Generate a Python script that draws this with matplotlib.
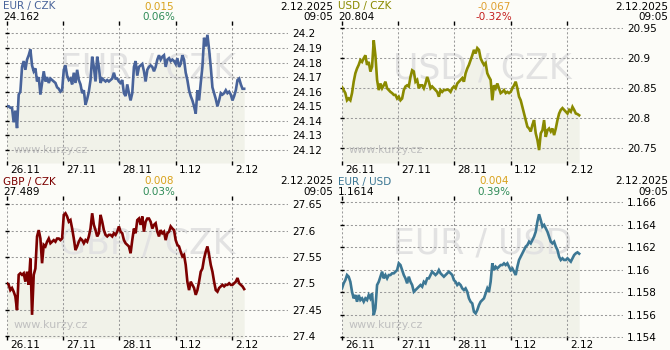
import numpy as np
import matplotlib
matplotlib.use("Agg")
import matplotlib.pyplot as plt
from matplotlib import transforms

# ---------------- data ----------------
day_labels = ["26.11", "27.11", "28.11", "1.12", "2.12"]

eurczk = [
    24.150, 24.150, 24.149, 24.149, 24.139, 24.147, 24.135, 24.158, 24.160, 24.177,
    24.181, 24.175, 24.182, 24.185, 24.189, 24.178, 24.174, 24.176, 24.167, 24.170,
    24.158, 24.166, 24.174, 24.167, 24.170, 24.166, 24.169, 24.168, 24.167, 24.166,
    24.163, 24.162, 24.160, 24.161, 24.175, 24.178, 24.171, 24.168, 24.169, 24.165,
    24.173, 24.166, 24.175, 24.168, 24.165, 24.159, 24.161, 24.151, 24.155, 24.160,
    24.168, 24.184, 24.177, 24.167, 24.184, 24.177, 24.166, 24.169, 24.168, 24.167,
    24.168, 24.167, 24.168, 24.169, 24.173, 24.169, 24.169, 24.167, 24.166, 24.168,
    24.159, 24.157, 24.165, 24.159, 24.154, 24.159, 24.177, 24.181, 24.171, 24.177,
    24.178, 24.179, 24.174, 24.167, 24.175, 24.177, 24.178, 24.177, 24.174, 24.177,
    24.182, 24.185, 24.182, 24.184, 24.185, 24.177, 24.182, 24.183, 24.181, 24.182,
    24.181, 24.179, 24.183, 24.177, 24.179, 24.185, 24.182, 24.173, 24.168, 24.161,
    24.157, 24.154, 24.150, 24.145, 24.161, 24.154, 24.166, 24.177, 24.197, 24.191,
    24.199, 24.189, 24.177, 24.163, 24.159, 24.155, 24.150, 24.154, 24.159, 24.158,
    24.159, 24.161, 24.159, 24.160, 24.158, 24.154, 24.157, 24.161, 24.168, 24.169,
    24.165, 24.162, 24.162,
]

usdczk = [
    20.851, 20.846, 20.841, 20.829, 20.832, 20.829, 20.841, 20.860, 20.874, 20.882,
    20.888, 20.896, 20.893, 20.899, 20.904, 20.888, 20.893, 20.877, 20.885, 20.929,
    20.904, 20.863, 20.846, 20.857, 20.849, 20.854, 20.860, 20.849, 20.846, 20.843,
    20.841, 20.838, 20.838, 20.832, 20.835, 20.829, 20.832, 20.846, 20.852, 20.854,
    20.852, 20.868, 20.879, 20.877, 20.860, 20.863, 20.849, 20.854, 20.854, 20.849,
    20.857, 20.868, 20.860, 20.849, 20.852, 20.849, 20.846, 20.843, 20.835, 20.846,
    20.843, 20.846, 20.846, 20.847, 20.846, 20.843, 20.849, 20.852, 20.849, 20.857,
    20.860, 20.863, 20.866, 20.860, 20.874, 20.882, 20.888, 20.896, 20.904, 20.913,
    20.907, 20.916, 20.913, 20.899, 20.893, 20.888, 20.891, 20.874, 20.868, 20.863,
    20.829, 20.854, 20.849, 20.857, 20.849, 20.841, 20.843, 20.846, 20.841, 20.843,
    20.841, 20.843, 20.849, 20.854, 20.860, 20.849, 20.835, 20.829, 20.818, 20.807,
    20.796, 20.785, 20.782, 20.777, 20.788, 20.796, 20.774, 20.763, 20.746, 20.774,
    20.779, 20.796, 20.768, 20.779, 20.782, 20.777, 20.782, 20.771, 20.782, 20.796,
    20.807, 20.813, 20.816, 20.813, 20.810, 20.807, 20.813, 20.810, 20.818, 20.813,
    20.807, 20.806, 20.804,
]

gbpczk = [
    27.500, 27.497, 27.487, 27.491, 27.484, 27.475, 27.449, 27.516, 27.519, 27.516,
    27.519, 27.503, 27.522, 27.497, 27.547, 27.440, 27.516, 27.528, 27.589, 27.601,
    27.585, 27.538, 27.573, 27.570, 27.579, 27.585, 27.576, 27.579, 27.582, 27.579,
    27.585, 27.585, 27.582, 27.585, 27.630, 27.633, 27.627, 27.617, 27.620, 27.604,
    27.585, 27.563, 27.570, 27.579, 27.585, 27.582, 27.576, 27.582, 27.579, 27.589,
    27.604, 27.633, 27.611, 27.601, 27.589, 27.595, 27.630, 27.617, 27.601, 27.592,
    27.589, 27.592, 27.592, 27.589, 27.595, 27.592, 27.598, 27.608, 27.598, 27.595,
    27.582, 27.576, 27.573, 27.570, 27.557, 27.582, 27.604, 27.595, 27.620, 27.623,
    27.611, 27.627, 27.598, 27.617, 27.623, 27.623, 27.617, 27.604, 27.611, 27.614,
    27.598, 27.589, 27.601, 27.595, 27.598, 27.582, 27.595, 27.598, 27.608, 27.604,
    27.601, 27.582, 27.573, 27.570, 27.560, 27.551, 27.554, 27.535, 27.503, 27.487,
    27.503, 27.497, 27.491, 27.478, 27.487, 27.503, 27.522, 27.528, 27.547, 27.560,
    27.570, 27.554, 27.535, 27.522, 27.503, 27.487, 27.484, 27.491, 27.494, 27.497,
    27.494, 27.497, 27.497, 27.500, 27.497, 27.497, 27.500, 27.503, 27.510, 27.500,
    27.497, 27.494, 27.489,
]

eurusd = [
    1.15833, 1.15878, 1.15907, 1.15952, 1.15937, 1.15892, 1.15803, 1.15744, 1.15774, 1.15714,
    1.15774, 1.15729, 1.15744, 1.15714, 1.15744, 1.15729, 1.15774, 1.15744, 1.15788, 1.15595,
    1.15655, 1.15863, 1.15892, 1.15937, 1.15982, 1.15922, 1.15952, 1.15922, 1.15952, 1.15952,
    1.15967, 1.15967, 1.15982, 1.15996, 1.16056, 1.16041, 1.15996, 1.15952, 1.15922, 1.15878,
    1.15937, 1.15892, 1.15863, 1.15803, 1.15818, 1.15833, 1.15848, 1.15863, 1.15848, 1.15892,
    1.15878, 1.15922, 1.15922, 1.15952, 1.15982, 1.15967, 1.15952, 1.15967, 1.15996, 1.15967,
    1.15952, 1.15937, 1.15952, 1.15967, 1.15982, 1.15967, 1.15952, 1.15907, 1.15892, 1.15863,
    1.15878, 1.15863, 1.15833, 1.15818, 1.15833, 1.15803, 1.15744, 1.15714, 1.15699, 1.15625,
    1.15610, 1.15640, 1.15684, 1.15714, 1.15729, 1.15744, 1.15788, 1.15833, 1.15803, 1.15892,
    1.16056, 1.15996, 1.16026, 1.16011, 1.16026, 1.16041, 1.16041, 1.16056, 1.16041, 1.16056,
    1.16026, 1.15996, 1.16011, 1.15982, 1.15952, 1.16026, 1.16086, 1.16115, 1.16145, 1.16175,
    1.16205, 1.16219, 1.16249, 1.16234, 1.16264, 1.16294, 1.16338, 1.16428, 1.16493, 1.16442,
    1.16383, 1.16398, 1.16368, 1.16338, 1.16294, 1.16249, 1.16234, 1.16249, 1.16205, 1.16175,
    1.16115, 1.16086, 1.16101, 1.16086, 1.16086, 1.16101, 1.16086, 1.16071, 1.16101, 1.16130,
    1.16145, 1.16154, 1.16142,
]

# sample times in days since 26.11 00:00 (last sample 2.12 ~05:20)
times = np.linspace(0.0, 4.22, len(eurczk))

names = ["EUR / CZK", "USD / CZK", "GBP / CZK", "EUR / USD"]
last_values = ["24.162", "20.804", "27.489", "1.1614"]
changes = ["0.015", "-0.067", "0.008", "0.004"]
changes_pct = ["0.06%", "-0.32%", "0.03%", "0.39%"]
stamp_date = "2.12.2025"
stamp_time = "09:05"

yticks_eurczk = [24.12, 24.13, 24.14, 24.15, 24.16, 24.17, 24.18, 24.19, 24.20]
ylabels_eurczk = ["24.12", "24.13", "24.14", "24.15", "24.16", "24.17", "24.18", "24.19", "24.2"]
yticks_usdczk = [20.75, 20.80, 20.85, 20.90, 20.95]
ylabels_usdczk = ["20.75", "20.8", "20.85", "20.9", "20.95"]
yticks_gbpczk = [27.40, 27.45, 27.50, 27.55, 27.60, 27.65]
ylabels_gbpczk = ["27.4", "27.45", "27.5", "27.55", "27.6", "27.65"]
yticks_eurusd = [1.154, 1.156, 1.158, 1.160, 1.162, 1.164, 1.166]
ylabels_eurusd = ["1.154", "1.156", "1.158", "1.16", "1.162", "1.164", "1.166"]

# ---------------- style ----------------
W, H = 670, 350
BG = "#fcfcf8"
FILL = "#f1f2e9"
GRID = "#9a9a9a"
WATER = "#e2e2e2"
GOLD = "#d9a21c"
GREEN = "#2e8b57"
RED = "#c41e1e"
INK = "#000000"
FS = 7.5
plt.rcParams["font.family"] = ["DejaVu Sans"]

panels = [
    dict(col=0, row=0, data=eurczk, color="#48639a", ylim=(24.1111, 24.2071),
         yt=yticks_eurczk, yl=ylabels_eurczk),
    dict(col=1, row=0, data=usdczk, color="#8a8a00", ylim=(20.7245, 20.9578),
         yt=yticks_usdczk, yl=ylabels_usdczk),
    dict(col=0, row=1, data=gbpczk, color="#7c0000", ylim=(27.396, 27.662),
         yt=yticks_gbpczk, yl=ylabels_gbpczk),
    dict(col=1, row=1, data=eurusd, color="#3c7794", ylim=(1.15391, 1.16638),
         yt=yticks_eurusd, yl=ylabels_eurusd),
]

fig = plt.figure(figsize=(W / 100, H / 100), dpi=100, facecolor=BG)


def ftext(x, y, s, **kw):
    fig.text(x / W, 1 - y / H, s, fontsize=FS, va="center", **kw)


for i, p in enumerate(panels):
    px, py = p["col"] * 335, p["row"] * 175
    ax = fig.add_axes([(px + 7) / W, (H - (py + 163)) / H, 281 / W, 140 / H])
    ax.set_facecolor(BG)
    for s in ax.spines.values():
        s.set_visible(False)
    ax.set_xlim(0, 5.0)
    ax.set_ylim(*p["ylim"])

    vals = np.array(p["data"])
    ax.fill_between(times, vals, p["ylim"][0], color=FILL, lw=0, zorder=0.2)
    ax.plot(times, vals, color=p["color"], lw=1.9, zorder=3,
            solid_joinstyle="miter")

    ax.text(0.5, 0.675, names[i], transform=ax.transAxes, fontsize=25,
            color=WATER, ha="center", va="center", zorder=0.3)
    ax.text(0.022, 0.093, "www.kurzy.cz", transform=ax.transAxes, fontsize=8,
            color="#c0c0c0", ha="left", va="center", zorder=0.3)

    ax.set_axisbelow(True)
    ax.set_yticks(p["yt"])
    ax.set_yticklabels(p["yl"])
    ax.tick_params(axis="y", left=True, right=False, labelleft=False,
                   labelright=True, length=2.5, width=1, color="black",
                   direction="inout", pad=1.7, labelsize=FS, labelcolor=INK)
    ax.set_xticks(range(len(day_labels)))
    ax.set_xticklabels([])
    ax.tick_params(axis="x", bottom=True, top=True, length=3, width=1,
                   color="black", direction="inout")
    ax.grid(True, color=GRID, lw=0.75, linestyle=(0, (2.0, 2.0)))

    off = transforms.ScaledTranslation(0.03, -0.07, fig.dpi_scale_trans)
    tr = transforms.blended_transform_factory(ax.transData, ax.transAxes) + off
    for d, lab in enumerate(day_labels):
        ax.text(d, 0, lab, transform=tr, fontsize=FS, color=INK,
                ha="left", va="center", clip_on=False)

    # header
    ftext(px + 3, py + 6.5, names[i], color=p["color"], ha="left")
    ftext(px + 3, py + 17, last_values[i], color=INK, ha="left")
    neg = changes[i].startswith("-")
    ftext(px + 159, py + 6.5, changes[i], color="#e0a030" if neg else GOLD, ha="center")
    ftext(px + 159, py + 17, changes_pct[i], color=RED if neg else GREEN, ha="center")
    ftext(px + 333, py + 6.5, stamp_date, color=INK, ha="right")
    ftext(px + 333, py + 17, stamp_time, color=INK, ha="right")

fig.savefig("out.png", dpi=100, facecolor=BG)
